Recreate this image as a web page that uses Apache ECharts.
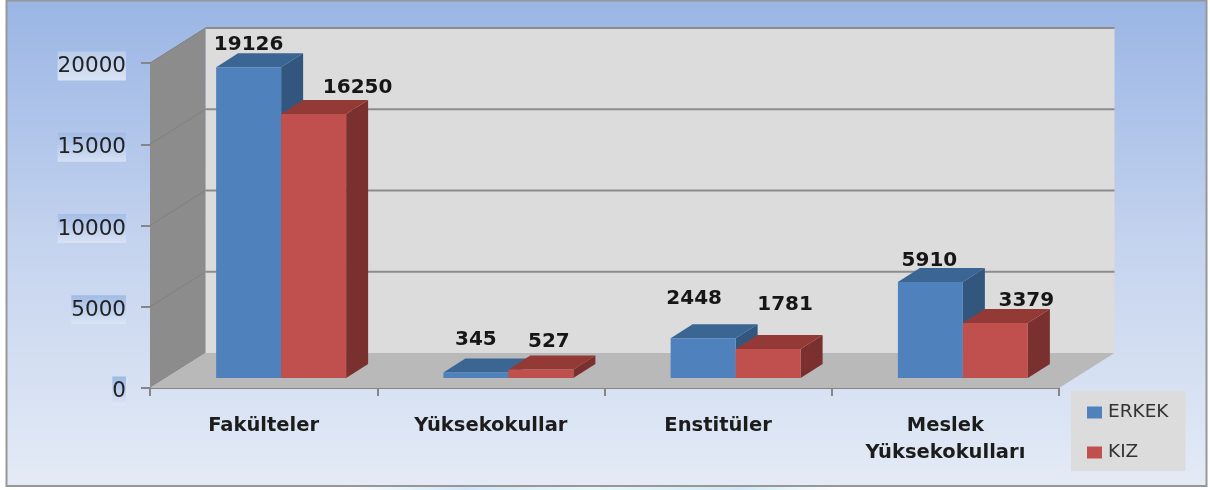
<!DOCTYPE html>
<html><head><meta charset="utf-8">
<style>html,body{margin:0;padding:0;background:#fff}#main{width:1210px;height:490px;filter:blur(0.5px)}</style>
<script src="https://cdn.jsdelivr.net/npm/echarts@6/dist/echarts.min.js"></script>
</head><body><div id="main"></div>
<script>
const categories = ['Fakülteler', 'Yüksekokullar', 'Enstitüler', 'Meslek\nYüksekokulları'];
const erkek = [19126, 345, 2448, 5910];
const kiz = [16250, 527, 1781, 3379];
const yTicks = [0, 5000, 10000, 15000, 20000];
const yMax = 20000;
const erkekNudge = [[0, -22], [0, -33], [-9, -39], [-1, -21]];
const kizNudge = [[44, -26], [8, -28], [17, -44], [31, -22]];

const DEPTH = [55.5, -35];      // wall depth
const BASE = [17.5, -10];       // bars' front plane in front of the axis plane
const BAR_DEPTH = [22, -14];
const BAR_RATIO = 0.286;
const LINE = '#8c8c8c';

function poly(points, fill, extra) {
  return Object.assign({ type: 'polygon', shape: { points }, style: { fill } }, extra || {});
}
function shift(p, d) { return [p[0] + d[0], p[1] + d[1]]; }

function wallsItem(params, api) {
  const v = api.value(1);
  const g = params.coordSys;
  const l = g.x, r = g.x + g.width;
  const yv = api.coord([0, v])[1];
  const children = [];
  if (params.dataIndex === 0) {
    const y0 = api.coord([0, 0])[1], yT = api.coord([0, yMax])[1];
    children.push(poly([shift([l, yT], DEPTH), shift([r, yT], DEPTH), shift([r, y0], DEPTH), shift([l, y0], DEPTH)], '#dcdcdc'));
    children.push(poly([[l, y0], [l, yT], shift([l, yT], DEPTH), shift([l, y0], DEPTH)], '#8c8c8c'));
    children.push(poly([[l, y0], shift([l, y0], DEPTH), shift([r, y0], DEPTH), [r, y0]], '#b9b9b9'));
  }
  const a = shift([l, yv], DEPTH), b = shift([r, yv], DEPTH);
  if (v > 0) {
    children.push({ type: 'line', shape: { x1: l, y1: yv, x2: a[0], y2: a[1] }, style: { stroke: '#808080', lineWidth: 1 } });
    children.push({ type: 'line', shape: { x1: a[0], y1: a[1], x2: b[0], y2: b[1] }, style: { stroke: LINE, lineWidth: 2 } });
  }
  return { type: 'group', children };
}

function barItem(side, colors, nudge) {
  return function (params, api) {
    const i = api.value(0), v = api.value(1);
    const w = api.size([1, 0])[0] * BAR_RATIO;
    const c0 = shift(api.coord([i, 0]), BASE), c1 = shift(api.coord([i, v]), BASE);
    const x0 = c0[0] + (side < 0 ? -w : 0), x1 = x0 + w;
    const yb = c0[1], yt = c1[1];
    const n = nudge[i];
    return {
      type: 'group',
      children: [
        poly([[x1, yt], shift([x1, yt], BAR_DEPTH), shift([x1, yb], BAR_DEPTH), [x1, yb]], colors.side),
        poly([[x0, yt], shift([x0, yt], BAR_DEPTH), shift([x1, yt], BAR_DEPTH), [x1, yt]], colors.top),
        poly([[x0, yt], [x1, yt], [x1, yb], [x0, yb]], colors.front),
        { type: 'text', z2: 10, style: { text: String(v), x: (x0 + x1) / 2 + n[0], y: yt + n[1],
          align: 'center', verticalAlign: 'middle', fill: '#161616',
          font: 'bold 20px "DejaVu Sans"' } }
      ]
    };
  };
}

const labelBg = {
  20000: ['#b9cceb', '#d9e3f4'], 15000: ['#a2bbe6', '#d5e0f3'], 10000: ['#a5bde7', '#d8e2f4'],
  5000: ['#a1bbe6', '#dbe5f5'], 0: ['#9db8e5', '#e0e8f6']
};
const rich = {};
yTicks.forEach(t => {
  rich['v' + t] = {
    fontFamily: 'DejaVu Sans', fontSize: 21.5, color: '#222',
    padding: [4, 0, 3, 0],
    backgroundColor: { type: 'linear', x: 0, y: 0, x2: 0, y2: 1,
      colorStops: [{ offset: 0, color: labelBg[t][0] }, { offset: 1, color: labelBg[t][1] }] }
  };
});

const chart = echarts.init(document.getElementById('main'), null, { renderer: 'canvas' });
chart.setOption({
  animation: false,
  graphic: [{
    type: 'rect', z: -11, silent: true,
    shape: { x: 340, y: 487, width: 500, height: 3 },
    style: {
      fill: { type: 'linear', x: 0, y: 0, x2: 1, y2: 0, colorStops: [
        { offset: 0, color: '#ffffff' }, { offset: 0.25, color: '#d0e6f8' }, { offset: 0.5, color: '#e8f8fa' },
        { offset: 0.8, color: '#cfe9f6' }, { offset: 1, color: '#ffffff' }] }
    }
  }, {
    type: 'rect', z: -10, silent: true,
    shape: { x: 6.5, y: 0.5, width: 1200, height: 485.5 },
    style: {
      stroke: '#979797', lineWidth: 2,
      fill: { type: 'linear', x: 0, y: 0, x2: 0, y2: 1, colorStops: [
        { offset: 0, color: '#9ab5e5' }, { offset: 0.5, color: '#c4d3ee' }, { offset: 1, color: '#e4ebf6' }] }
    }
  }],
  grid: { left: 150, top: 63, width: 909, height: 325 },
  legend: {
    data: ['ERKEK', 'KIZ'], orient: 'vertical', left: 1071, top: 391,
    backgroundColor: '#dcdcdc', borderRadius: 0, padding: [12, 17, 9, 16],
    itemWidth: 15, itemHeight: 12, itemGap: 21,
    icon: 'rect', selectedMode: false,
    textStyle: { fontFamily: 'DejaVu Sans', fontSize: 18.5, color: '#333', padding: [0, 0, 0, 1] }
  },
  xAxis: {
    type: 'category', data: categories,
    axisLine: { show: true, lineStyle: { color: '#868686', width: 2 } },
    axisTick: { show: true, length: 8, alignWithLabel: false, lineStyle: { color: '#868686', width: 2 } },
    axisLabel: { interval: 0, margin: 24, fontFamily: 'DejaVu Sans', fontWeight: 'bold', fontSize: 19.5, lineHeight: 27, color: '#1c1c1c' }
  },
  yAxis: {
    type: 'value', min: 0, max: yMax, interval: 5000,
    splitLine: { show: false },
    axisLine: { show: true, lineStyle: { color: '#868686', width: 1 } },
    axisTick: { show: true, length: 9, lineStyle: { color: '#868686', width: 2 } },
    axisLabel: { margin: 24, padding: [6, 0, 0, 0], formatter: v => `{v${v}|${v}}`, rich }
  },
  series: [
    { type: 'custom', name: 'walls', z: 1, silent: true, renderItem: wallsItem,
      data: yTicks.map(t => [0, t]), encode: { x: 0, y: 1 } },
    { type: 'custom', name: 'ERKEK', z: 3, silent: true, itemStyle: { color: '#4f81bd' },
      renderItem: barItem(-1, { front: '#4f81bd', top: '#3b6592', side: '#33567f' }, erkekNudge),
      data: erkek.map((v, i) => [i, v]), encode: { x: 0, y: 1 } },
    { type: 'custom', name: 'KIZ', z: 4, silent: true, itemStyle: { color: '#c0504d' },
      renderItem: barItem(1, { front: '#c0504d', top: '#933a37', side: '#7a302e' }, kizNudge),
      data: kiz.map((v, i) => [i, v]), encode: { x: 0, y: 1 } }
  ]
});
</script></body></html>
